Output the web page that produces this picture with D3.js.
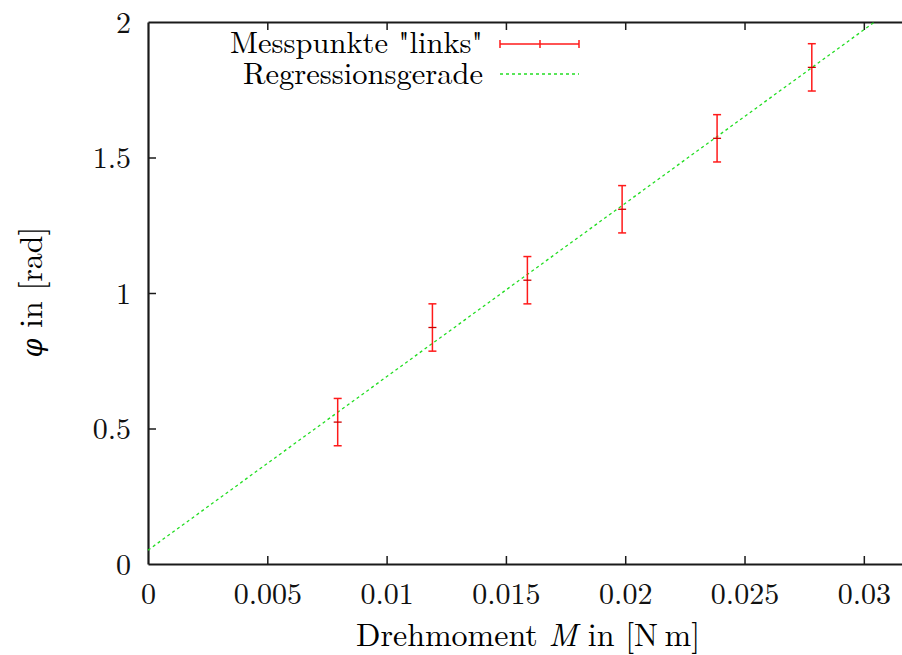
<!DOCTYPE html>
<html>
<head>
<meta charset="utf-8">
<script src="https://cdn.jsdelivr.net/npm/d3@7"></script>
<style>
  body { margin: 0; background: #fff; }
</style>
</head>
<body>
<div id="chart"></div>
<script>
// measured torque M [N m] and angle phi [rad], error 5 deg
var torque = [0.00795, 0.01192, 0.01590, 0.01987, 0.02385, 0.02782];
var phi    = [0.5236, 0.8727, 1.0472, 1.3090, 1.5708, 1.8326];
var phiErr = [0.0873, 0.0873, 0.0873, 0.0873, 0.0873, 0.0873];

// regression line phi = a*M + b
var slope = 64.0, intercept = 0.051;

var xTicks = [0, 0.005, 0.01, 0.015, 0.02, 0.025, 0.03];
var yTicks = [0, 0.5, 1, 1.5, 2];

var margin = {top: 22, right: 0, bottom: 91, left: 148},
    width = 902 - margin.left - margin.right,
    height = 655 - margin.top - margin.bottom;

var font = "'Latin Modern Roman', 'CMU Serif', 'Liberation Serif', serif";
var fsTick = "30px", fsText = "30.5px";

var svg = d3.select("#chart")
    .append("svg")
        .attr("width", 902)
        .attr("height", 655)
    .append("g")
        .attr("transform", "translate(" + margin.left + "," + margin.top + ")");

var x = d3.scaleLinear()
        .domain([0, 0.0316])
        .range([0, width]);

var y = d3.scaleLinear()
        .domain([0, 2])
        .range([height, 0]);

// axes with inward ticks
var xAxis = svg.append("g")
    .attr("transform", "translate(0," + height + ")")
    .call(d3.axisBottom(x).tickValues(xTicks).tickSizeInner(-8).tickSizeOuter(0).tickPadding(19)
        .tickFormat(function(d) { return d === 0 ? "0" : String(+d.toFixed(3)); }));

svg.append("g")
    .call(d3.axisTop(x).tickValues(xTicks.slice(1)).tickSizeInner(-8).tickSizeOuter(0).tickFormat(""));

var yAxis = svg.append("g")
    .call(d3.axisLeft(y).tickValues(yTicks).tickSizeInner(-8).tickSizeOuter(0).tickPadding(17)
        .tickFormat(function(d) { return String(d); }));

svg.selectAll(".domain").attr("stroke", "#1a1a1a").attr("stroke-width", 2.2);
svg.selectAll(".tick line").attr("stroke", "#1a1a1a").attr("stroke-width", 1.5);
svg.selectAll(".tick text").style("font-size", fsTick).attr("fill", "#111");
xAxis.selectAll(".tick text").attr("dy", "0.71em");
yAxis.selectAll(".tick text").attr("dy", "0.34em");
// no tick marks in the corners
xAxis.selectAll(".tick line").filter(function(d) { return d === 0; }).remove();
yAxis.selectAll(".tick line").filter(function(d) { return d === 0 || d === 2; }).remove();

// regression line
var xs = [0, (2 - intercept) / slope];
svg.append("line")
    .attr("x1", x(xs[0])).attr("y1", y(intercept))
    .attr("x2", x(xs[1])).attr("y2", y(2))
    .attr("stroke", "#22dd22")
    .attr("stroke-width", 1.3)
    .attr("stroke-dasharray", "3,3");

// error bars
var pts = torque.map(function(d, i) { return {m: d, p: phi[i], e: phiErr[i]}; });
var red = "#ff1a1a";
var g = svg.selectAll(".pt").data(pts).enter().append("g");
g.append("line")
    .attr("x1", function(d) { return x(d.m); }).attr("x2", function(d) { return x(d.m); })
    .attr("y1", function(d) { return y(d.p - d.e); }).attr("y2", function(d) { return y(d.p + d.e); })
    .attr("stroke", red).attr("stroke-width", 1.5);
[-1, 1].forEach(function(s) {
    g.append("line")
        .attr("x1", function(d) { return x(d.m) - 4; }).attr("x2", function(d) { return x(d.m) + 4; })
        .attr("y1", function(d) { return y(d.p + s * d.e); }).attr("y2", function(d) { return y(d.p + s * d.e); })
        .attr("stroke", red).attr("stroke-width", 1.5);
});
g.append("line")
    .attr("x1", function(d) { return x(d.m) - 4; }).attr("x2", function(d) { return x(d.m) + 4; })
    .attr("y1", function(d) { return y(d.p); }).attr("y2", function(d) { return y(d.p); })
    .attr("stroke", "#cc0000").attr("stroke-width", 1.3);

// legend
var lg = svg.append("g");
lg.append("text").attr("x", 335).attr("y", 21).attr("dy", "0.33em")
    .attr("text-anchor", "end").style("font-size", fsText).text('Messpunkte "links"');
lg.append("text").attr("x", 335).attr("y", 52).attr("dy", "0.33em")
    .attr("text-anchor", "end").style("font-size", fsText).text("Regressionsgerade");
lg.append("line").attr("x1", 352).attr("x2", 431).attr("y1", 22).attr("y2", 22)
    .attr("stroke", red).attr("stroke-width", 1.5);
[352, 431].forEach(function(px) {
    lg.append("line").attr("x1", px).attr("x2", px).attr("y1", 18).attr("y2", 26)
        .attr("stroke", red).attr("stroke-width", 1.5);
});
lg.append("line").attr("x1", 392).attr("x2", 392).attr("y1", 18).attr("y2", 26)
    .attr("stroke", red).attr("stroke-width", 1.5);
lg.append("line").attr("x1", 352).attr("x2", 431).attr("y1", 52).attr("y2", 52)
    .attr("stroke", "#22dd22").attr("stroke-width", 1.3).attr("stroke-dasharray", "3,3");

// axis titles
var xl = svg.append("text")
    .attr("x", 380).attr("y", height + 82)
    .attr("text-anchor", "middle").style("font-size", "32px");
xl.append("tspan").text("Drehmoment ");
xl.append("tspan").style("font-style", "italic").text("M");
xl.append("tspan").text(" in [N\u2009m]");

var yl = svg.append("text")
    .attr("transform", "translate(" + (-106) + "," + (height / 2 - 1) + ") rotate(-90)")
    .attr("text-anchor", "middle").style("font-size", "32px");
yl.append("tspan").attr("class", "phi").style("font-style", "italic").text("\u03C6");
yl.append("tspan").text(" in [rad]");

svg.selectAll("text").style("font-family", font);
svg.selectAll("tspan").style("font-family", font);
yl.select(".phi").style("font-family", "'DejaVu Serif', serif").style("font-size", "27px");
</script>
</body>
</html>
